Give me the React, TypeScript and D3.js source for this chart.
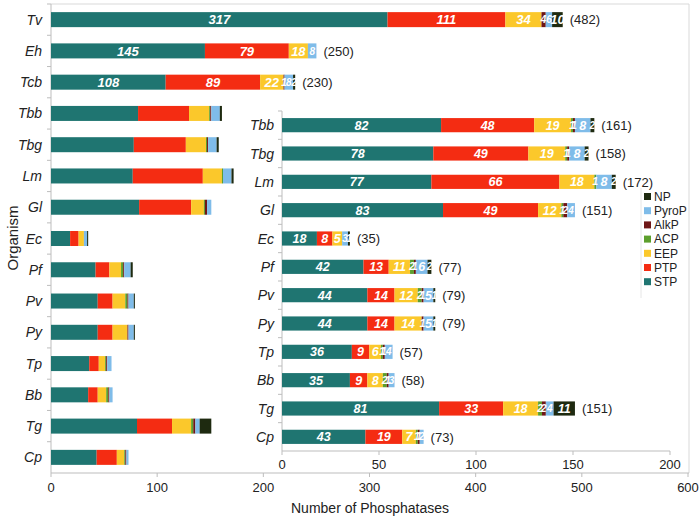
import React from 'react';
import * as d3 from 'd3';

// phosphatase classes, in stacking order
const classes = ['STP', 'PTP', 'EEP', 'ACP', 'AlkP', 'PyroP', 'NP'];
const colors = ['#1f7571', '#f42c12', '#fbc82b', '#5c9f2c', '#6e1616', '#7fbce9', '#1e2a10'];
const legendOrder = ['NP', 'PyroP', 'AlkP', 'ACP', 'EEP', 'PTP', 'STP'];

// main chart (all organisms)
const organisms = ['Tv', 'Eh', 'Tcb', 'Tbb', 'Tbg', 'Lm', 'Gl', 'Ec', 'Pf', 'Pv', 'Py', 'Tp', 'Bb', 'Tg', 'Cp'];
const STP = [317, 145, 108, 82, 78, 77, 83, 18, 42, 44, 44, 36, 35, 81, 43];
const PTP = [111, 79, 89, 48, 49, 66, 49, 8, 13, 14, 14, 9, 9, 33, 19];
const EEP = [34, 18, 22, 19, 19, 18, 12, 5, 11, 12, 14, 6, 8, 18, 7];
const ACP = [0, 0, 0, 1, 1, 1, 1, 0, 2, 2, 0, 1, 2, 2, 1];
const AlkP = [4, 0, 1, 1, 1, 0, 2, 0, 1, 1, 1, 1, 1, 2, 1];
const PyroP = [6, 8, 8, 8, 8, 8, 4, 3, 6, 5, 5, 4, 3, 4, 2];
const NP = [10, 0, 2, 2, 2, 2, 0, 1, 2, 1, 1, 0, 0, 11, 0];
const totals = [482, 250, 230, 161, 158, 172, 151, 35, 77, 79, 79, 57, 58, 151, 73];
// rows of the main chart that carry value labels
const labelledRows = ['Tv', 'Eh', 'Tcb'];
// inset (zoomed) chart
const insetOrganisms = organisms.slice(3);

const mainTicks = [0, 100, 200, 300, 400, 500, 600];
const insetTicks = [0, 50, 100, 150, 200];

const series = [STP, PTP, EEP, ACP, AlkP, PyroP, NP];
const rows = organisms.map((o, i) => {
  const r: any = { org: o, total: totals[i] };
  classes.forEach((c, k) => (r[c] = series[k][i]));
  return r;
});
const stack = d3.stack<any>().keys(classes)(rows);

const font = 'Liberation Sans, Arial, sans-serif';
const axisColor = '#bdbdbd';

const Bars = ({ x, y, orgs, labelAll, fontSize }: any) => (
  <g>
    {stack.map((layer, k) => (
      <g key={classes[k]} fill={colors[k]}>
        {layer.map((d, i) => {
          const org = organisms[i];
          if (!orgs.includes(org) || d[1] - d[0] <= 0) return null;
          return (
            <rect key={org} x={x(d[0])} y={y(org)} width={x(d[1]) - x(d[0])} height={y.bandwidth()} />
          );
        })}
      </g>
    ))}
    {stack.map((layer, k) => (
      <g key={'l' + classes[k]}>
        {layer.map((d, i) => {
          const org = organisms[i];
          const v = d[1] - d[0];
          if (!orgs.includes(org) || v <= 0) return null;
          if (!labelAll && !labelledRows.includes(org)) return null;
          const w = x(d[1]) - x(d[0]);
          return (
            <text key={org} x={(x(d[0]) + x(d[1])) / 2} y={y(org)! + y.bandwidth() / 2} dy="0.36em"
              textAnchor="middle" fill="#fff" fontSize={w < 9 ? 10 : fontSize} fontWeight="bold" fontStyle="italic"
              fontFamily={font}>{v}</text>
          );
        })}
      </g>
    ))}
    {rows.filter(r => orgs.includes(r.org) && (labelAll || labelledRows.includes(r.org))).map(r => (
      <text key={'t' + r.org} x={x(r.total) + 7} y={y(r.org)! + y.bandwidth() / 2} dy="0.36em"
        fontSize={13} fontFamily={font} fill="#222">({r.total})</text>
    ))}
  </g>
);

const App = () => {
  const width = 700;
  const height = 519;

  const x = d3.scaleLinear().domain([0, 600]).range([51, 688]);
  const y = d3.scaleBand().domain(organisms).range([4, 473]).paddingInner(0.52).paddingOuter(0.26);
  const step = y.step();

  const xi = d3.scaleLinear().domain([0, 200]).range([282, 670]);
  const yi = d3.scaleBand().domain(insetOrganisms).range([111, 451]).paddingInner(0.5).paddingOuter(0.25);
  const stepI = yi.step();

  return (
    <svg width={width} height={height} style={{ position: 'absolute', left: 0, top: 0, background: '#fff' }}>
      {/* main frame */}
      <line x1={51} x2={689} y1={4} y2={4} stroke="#d9d9d9" />
      <line x1={689} x2={689} y1={4} y2={473} stroke="#d9d9d9" />
      <line x1={51} x2={51} y1={4} y2={473} stroke={axisColor} />
      {organisms.map((o, i) => (
        <line key={o} x1={47} x2={51} y1={4 + i * step} y2={4 + i * step} stroke={axisColor} />
      ))}
      <line x1={51} x2={689} y1={473} y2={473} stroke={axisColor} />
      {mainTicks.map(t => (
        <g key={t}>
          <line x1={x(t)} x2={x(t)} y1={473} y2={477} stroke={axisColor} />
          <text x={x(t)} y={492} textAnchor="middle" fontSize={13} fontFamily={font} fill="#222">{t}</text>
        </g>
      ))}
      {organisms.map(o => (
        <text key={o} x={42} y={y(o)! + y.bandwidth() / 2} dy="0.36em" textAnchor="end" fontSize={14}
          fontStyle="italic" fontFamily={font} fill="#222">{o}</text>
      ))}
      <Bars x={x} y={y} orgs={organisms} labelAll={false} fontSize={13} />

      {/* inset */}
      <line x1={282} x2={282} y1={111} y2={451} stroke={axisColor} />
      {insetOrganisms.map((o, i) => (
        <line key={o} x1={278} x2={282} y1={111 + i * stepI} y2={111 + i * stepI} stroke={axisColor} />
      ))}
      <line x1={282} x2={670} y1={451} y2={451} stroke={axisColor} />
      {insetTicks.map(t => (
        <g key={t}>
          <line x1={xi(t)} x2={xi(t)} y1={451} y2={455} stroke={axisColor} />
          <text x={xi(t)} y={469} textAnchor="middle" fontSize={13} fontFamily={font} fill="#222">{t}</text>
        </g>
      ))}
      {insetOrganisms.map(o => (
        <text key={o} x={274} y={yi(o)! + yi.bandwidth() / 2} dy="0.36em" textAnchor="end" fontSize={14}
          fontStyle="italic" fontFamily={font} fill="#222">{o}</text>
      ))}
      <Bars x={xi} y={yi} orgs={insetOrganisms} labelAll={true} fontSize={12.5} />

      {/* legend */}
      <line x1={641} x2={641} y1={188} y2={298} stroke="#e6e6e6" />
      {legendOrder.map((c, i) => (
        <g key={c}>
          <rect x={644} y={193 + i * 14.2} width={7} height={7} fill={colors[classes.indexOf(c)]} />
          <text x={654} y={196.5 + i * 14.2} dy="0.36em" fontSize={12} fontFamily={font} fill="#222">{c}</text>
        </g>
      ))}

      {/* axis titles */}
      <text x={370} y={513} textAnchor="middle" fontSize={14} fontFamily={font} fill="#222">Number of Phosphatases</text>
      <text transform="translate(13,238) rotate(-90)" textAnchor="middle" dy="0.36em" fontSize={15}
        fontFamily={font} fill="#222">Organism</text>
    </svg>
  );
};

export default App;
